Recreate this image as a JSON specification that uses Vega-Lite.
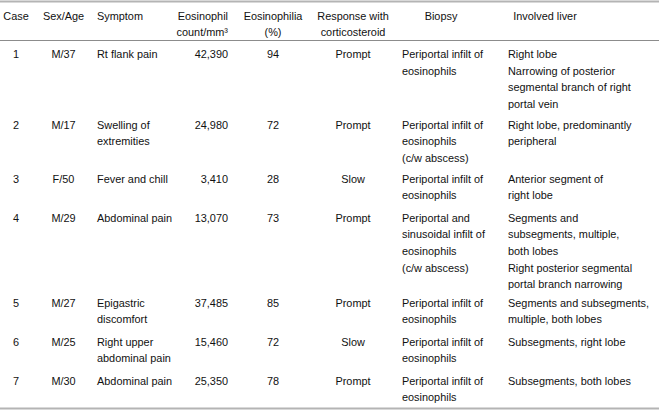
{
  "$schema": "https://vega.github.io/schema/vega-lite/v6.json",
  "width": 659,
  "height": 410,
  "padding": 0,
  "autosize": {"type": "none"},
  "config": {
    "view": {"stroke": null},
    "text": {"font": "Liberation Sans", "fontSize": 10.9, "color": "#111111", "baseline": "alphabetic", "lineBreak": "\n", "lineHeight": 16.6}
  },
  "data": {"values": [
    {"case": 0, "ci": 1, "text": "Case"},
    {"case": 0, "ci": 2, "text": "Sex/Age"},
    {"case": 0, "ci": 3, "text": "Symptom"},
    {"case": 0, "ci": 4, "text": "Eosinophil\ncount/mm³"},
    {"case": 0, "ci": 5, "text": "Eosinophilia\n(%)"},
    {"case": 0, "ci": 6, "text": "Response with\ncorticosteroid"},
    {"case": 0, "ci": 7, "text": "Biopsy"},
    {"case": 0, "ci": 8, "text": "Involved liver"},
    {"case": 1, "ci": 1, "text": "1"},
    {"case": 1, "ci": 2, "text": "M/37"},
    {"case": 1, "ci": 3, "text": "Rt flank pain"},
    {"case": 1, "ci": 4, "text": "42,390"},
    {"case": 1, "ci": 5, "text": "94"},
    {"case": 1, "ci": 6, "text": "Prompt"},
    {"case": 1, "ci": 7, "text": "Periportal infilt of\neosinophils"},
    {"case": 1, "ci": 8, "text": "Right lobe\nNarrowing of posterior\nsegmental branch of right\nportal vein"},
    {"case": 2, "ci": 1, "text": "2"},
    {"case": 2, "ci": 2, "text": "M/17"},
    {"case": 2, "ci": 3, "text": "Swelling of\nextremities"},
    {"case": 2, "ci": 4, "text": "24,980"},
    {"case": 2, "ci": 5, "text": "72"},
    {"case": 2, "ci": 6, "text": "Prompt"},
    {"case": 2, "ci": 7, "text": "Periportal infilt of\neosinophils\n\u00a0\u00a0(c/w abscess)"},
    {"case": 2, "ci": 8, "text": "Right lobe, predominantly\nperipheral"},
    {"case": 3, "ci": 1, "text": "3"},
    {"case": 3, "ci": 2, "text": "F/50"},
    {"case": 3, "ci": 3, "text": "Fever and chill"},
    {"case": 3, "ci": 4, "text": "3,410"},
    {"case": 3, "ci": 5, "text": "28"},
    {"case": 3, "ci": 6, "text": "Slow"},
    {"case": 3, "ci": 7, "text": "Periportal infilt of\neosinophils"},
    {"case": 3, "ci": 8, "text": "Anterior segment of\nright lobe"},
    {"case": 4, "ci": 1, "text": "4"},
    {"case": 4, "ci": 2, "text": "M/29"},
    {"case": 4, "ci": 3, "text": "Abdominal pain"},
    {"case": 4, "ci": 4, "text": "13,070"},
    {"case": 4, "ci": 5, "text": "73"},
    {"case": 4, "ci": 6, "text": "Prompt"},
    {"case": 4, "ci": 7, "text": "Periportal and\nsinusoidal infilt of\neosinophils\n\u00a0\u00a0(c/w abscess)"},
    {"case": 4, "ci": 8, "text": "Segments and\nsubsegments, multiple,\nboth lobes\nRight posterior segmental\nportal branch narrowing"},
    {"case": 5, "ci": 1, "text": "5"},
    {"case": 5, "ci": 2, "text": "M/27"},
    {"case": 5, "ci": 3, "text": "Epigastric\ndiscomfort"},
    {"case": 5, "ci": 4, "text": "37,485"},
    {"case": 5, "ci": 5, "text": "85"},
    {"case": 5, "ci": 6, "text": "Prompt"},
    {"case": 5, "ci": 7, "text": "Periportal infilt of\neosinophils"},
    {"case": 5, "ci": 8, "text": "Segments and subsegments,\nmultiple, both lobes"},
    {"case": 6, "ci": 1, "text": "6"},
    {"case": 6, "ci": 2, "text": "M/25"},
    {"case": 6, "ci": 3, "text": "Right upper\nabdominal pain"},
    {"case": 6, "ci": 4, "text": "15,460"},
    {"case": 6, "ci": 5, "text": "72"},
    {"case": 6, "ci": 6, "text": "Slow"},
    {"case": 6, "ci": 7, "text": "Periportal infilt of\neosinophils"},
    {"case": 6, "ci": 8, "text": "Subsegments, right lobe"},
    {"case": 7, "ci": 1, "text": "7"},
    {"case": 7, "ci": 2, "text": "M/30"},
    {"case": 7, "ci": 3, "text": "Abdominal pain"},
    {"case": 7, "ci": 4, "text": "25,350"},
    {"case": 7, "ci": 5, "text": "78"},
    {"case": 7, "ci": 6, "text": "Prompt"},
    {"case": 7, "ci": 7, "text": "Periportal infilt of\neosinophils"},
    {"case": 7, "ci": 8, "text": "Subsegments, both lobes"}
  ]},
  "layer": [
    {
      "data": {"values": [{"boundary": 0}, {"boundary": 8}]},
      "mark": {"type": "rule", "color": "#b4b4b4", "strokeWidth": 2},
      "encoding": {"y": {"field": "boundary", "type": "quantitative", "axis": null, "scale": {"domain": [0, 1, 8], "range": [1.5, 40.5, 408.5], "nice": false, "zero": false}}}
    },
    {
      "data": {"values": [{"boundary": 1}]},
      "mark": {"type": "rule", "color": "#8c8c8c", "strokeWidth": 1},
      "encoding": {"y": {"field": "boundary", "type": "quantitative", "axis": null, "scale": {"domain": [0, 1, 8], "range": [1.5, 40.5, 408.5], "nice": false, "zero": false}}}
    },
    {
      "transform": [{"filter": {"field": "ci", "oneOf": [1, 2, 5, 6]}}],
      "mark": {"type": "text", "align": "center"},
      "encoding": {
        "text": {"field": "text", "type": "nominal"},
        "x": {"field": "ci", "type": "quantitative", "axis": null, "scale": {"domain": [1, 2, 3, 4, 5, 6, 7, 8], "range": [16, 63.5, 97, 228, 273, 353, 402, 508], "nice": false, "zero": false}},
        "y": {"field": "case", "type": "quantitative", "axis": null, "scale": {"domain": [0, 1, 2, 3, 4, 5, 6, 7], "range": [19.5, 58.3, 128.8, 182.8, 221.8, 306.8, 345.8, 384.8], "nice": false, "zero": false}}
      }
    },
    {
      "transform": [{"filter": "(datum.ci == 3) || (datum.case > 0 && datum.ci >= 7)"}],
      "mark": {"type": "text", "align": "left"},
      "encoding": {
        "text": {"field": "text", "type": "nominal"},
        "x": {"field": "ci", "type": "quantitative", "axis": null, "scale": {"domain": [1, 2, 3, 4, 5, 6, 7, 8], "range": [16, 63.5, 97, 228, 273, 353, 402, 508], "nice": false, "zero": false}},
        "y": {"field": "case", "type": "quantitative", "axis": null, "scale": {"domain": [0, 1, 2, 3, 4, 5, 6, 7], "range": [19.5, 58.3, 128.8, 182.8, 221.8, 306.8, 345.8, 384.8], "nice": false, "zero": false}}
      }
    },
    {
      "transform": [{"filter": {"field": "ci", "equal": 4}}],
      "mark": {"type": "text", "align": "right"},
      "encoding": {
        "text": {"field": "text", "type": "nominal"},
        "x": {"field": "ci", "type": "quantitative", "axis": null, "scale": {"domain": [1, 2, 3, 4, 5, 6, 7, 8], "range": [16, 63.5, 97, 228, 273, 353, 402, 508], "nice": false, "zero": false}},
        "y": {"field": "case", "type": "quantitative", "axis": null, "scale": {"domain": [0, 1, 2, 3, 4, 5, 6, 7], "range": [19.5, 58.3, 128.8, 182.8, 221.8, 306.8, 345.8, 384.8], "nice": false, "zero": false}}
      }
    },
    {
      "transform": [{"filter": "datum.case == 0 && datum.ci >= 7"}],
      "mark": {"type": "text", "align": "center"},
      "encoding": {
        "text": {"field": "text", "type": "nominal"},
        "x": {"field": "ci", "type": "quantitative", "axis": null, "scale": {"domain": [7, 8], "range": [441, 545], "nice": false, "zero": false}},
        "y": {"field": "case", "type": "quantitative", "axis": null, "scale": {"domain": [0, 1, 2, 3, 4, 5, 6, 7], "range": [19.5, 58.3, 128.8, 182.8, 221.8, 306.8, 345.8, 384.8], "nice": false, "zero": false}}
      }
    }
  ],
  "resolve": {"scale": {"x": "independent", "y": "independent"}}
}
